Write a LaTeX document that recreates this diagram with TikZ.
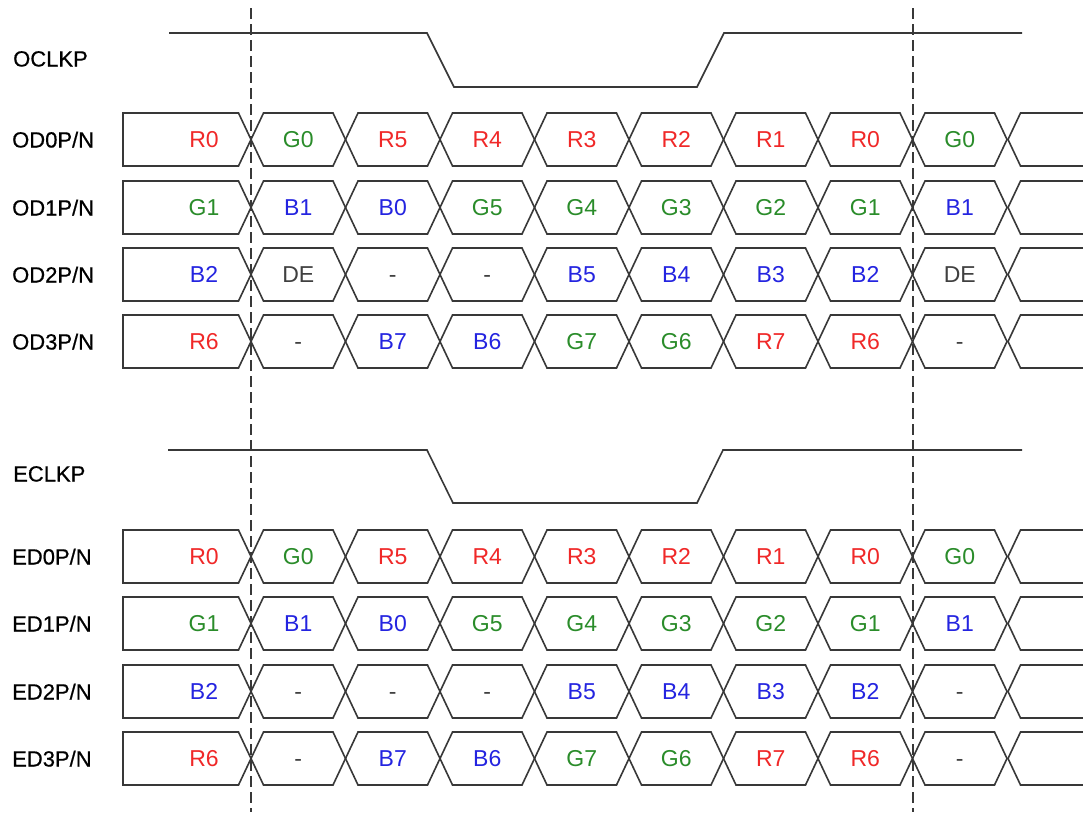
\documentclass[tikz,border=0pt]{standalone}
\usepackage{fontspec}
\setmainfont{Liberation Sans}
\newfontfamily\lblfont[FakeBold=0.6]{Liberation Sans}
\definecolor{sigR}{HTML}{F02828}
\definecolor{sigG}{HTML}{2A8C2A}
\definecolor{sigB}{HTML}{2424E0}
\definecolor{sigK}{HTML}{404040}
\definecolor{wire}{HTML}{383838}
\tikzset{
  wave/.style={draw=wire, line width=1.6pt, line join=miter},
  lbl/.style={anchor=base west, inner sep=0pt, font=\lblfont\fontsize{22}{26}\selectfont, text=black},
  dat/.style={anchor=base, inner sep=0pt, font=\fontsize{23}{27}\selectfont},
  guide/.style={draw=wire, line width=1.5pt, dash pattern=on 11pt off 5pt},
}
\newcommand\sigrow[4]{% #1 name, #2 top y, #3 label, #4 cells
  \pgfmathsetmacro\tp{#2}%
  \pgfmathsetmacro\bt{#2+53}%
  \pgfmathsetmacro\md{#2+26.5}%
  \node[lbl] (#1) at (12,\md+8) {#3};
  \draw[wave] (123,\tp) -- (238.5,\tp) -- (251,\md) -- (238.5,\bt) -- (123,\bt) -- cycle;
  \foreach \k in {1,...,8}{%
    \pgfmathsetmacro\a{251+94.5*(\k-1)}%
    \pgfmathsetmacro\b{\a+94.5}%
    \draw[wave] (\a,\md) -- (\a+12.5,\tp) -- (\b-12.5,\tp) -- (\b,\md) -- (\b-12.5,\bt) -- (\a+12.5,\bt) -- cycle;
  }
  \draw[wave] (1100,\tp) -- (1020.5,\tp) -- (1008,\md) -- (1020.5,\bt) -- (1100,\bt);
  \foreach [count=\k from 0] \t/\c in {#4}{%
    \ifnum\k=0
      \pgfmathsetmacro\xx{204}%
    \else
      \pgfmathsetmacro\xx{251+94.5*(\k-0.5)}%
    \fi
    \node[dat, text=\c] (#1-\k) at (\xx,\md+8.3) {\t};
  }
}
\begin{document}
\begin{tikzpicture}[x=1pt, y=-1pt]
  \useasboundingbox (0,0) rectangle (1083,812);
  \fill[white] (0,0) rectangle (1083,812);

  % clocks
  \node[lbl] (oclk) at (13,59+7.5) {OCLKP};
  \draw[wave] (169,33) -- (427,33) -- (454,87) -- (697,87) -- (724,33) -- (1022,33);
  \node[lbl] (eclk) at (13,474+7.5) {ECLKP};
  \draw[wave] (168,450) -- (427,450) -- (453,503) -- (697,503) -- (723,450) -- (1022,450);

  % odd channel
  \sigrow{od0}{113}{OD0P/N}{R0/sigR,G0/sigG,R5/sigR,R4/sigR,R3/sigR,R2/sigR,R1/sigR,R0/sigR,G0/sigG}
  \sigrow{od1}{181}{OD1P/N}{G1/sigG,B1/sigB,B0/sigB,G5/sigG,G4/sigG,G3/sigG,G2/sigG,G1/sigG,B1/sigB}
  \sigrow{od2}{248}{OD2P/N}{B2/sigB,DE/sigK,-/sigK,-/sigK,B5/sigB,B4/sigB,B3/sigB,B2/sigB,DE/sigK}
  \sigrow{od3}{315}{OD3P/N}{R6/sigR,-/sigK,B7/sigB,B6/sigB,G7/sigG,G6/sigG,R7/sigR,R6/sigR,-/sigK}

  % even channel
  \sigrow{ed0}{530}{ED0P/N}{R0/sigR,G0/sigG,R5/sigR,R4/sigR,R3/sigR,R2/sigR,R1/sigR,R0/sigR,G0/sigG}
  \sigrow{ed1}{597}{ED1P/N}{G1/sigG,B1/sigB,B0/sigB,G5/sigG,G4/sigG,G3/sigG,G2/sigG,G1/sigG,B1/sigB}
  \sigrow{ed2}{665}{ED2P/N}{B2/sigB,-/sigK,-/sigK,-/sigK,B5/sigB,B4/sigB,B3/sigB,B2/sigB,-/sigK}
  \sigrow{ed3}{732}{ED3P/N}{R6/sigR,-/sigK,B7/sigB,B6/sigB,G7/sigG,G6/sigG,R7/sigR,R6/sigR,-/sigK}

  % dashed guides
  \coordinate (g1t) at (251,8);
  \coordinate (g1b) at (251,812);
  \coordinate (g2t) at (913,8);
  \coordinate (g2b) at (913,812);
  \draw[guide] (g1t) -- (g1b);
  \draw[guide] (g2t) -- (g2b);
\end{tikzpicture}
\end{document}
